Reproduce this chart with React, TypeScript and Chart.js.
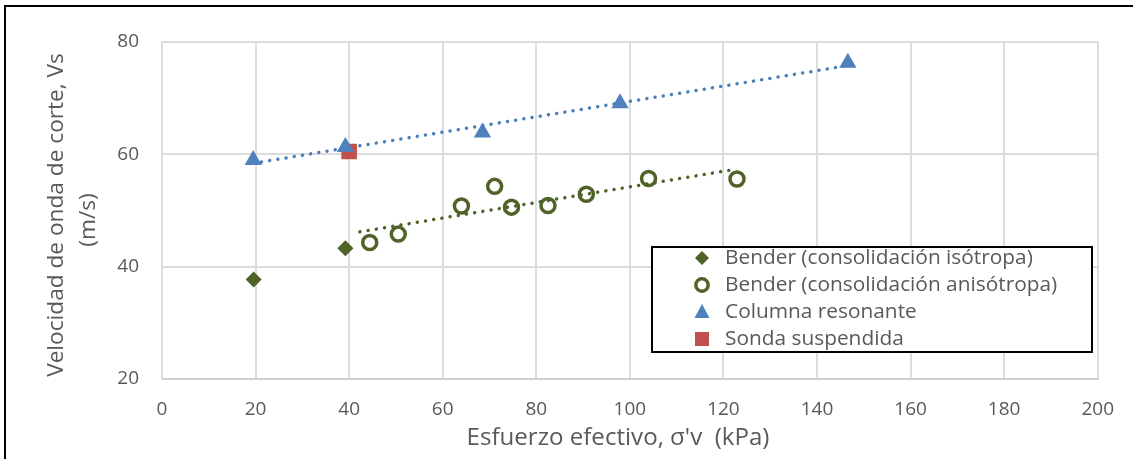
import React, { useEffect, useRef } from 'react';
import { Chart, registerables } from 'chart.js';

Chart.register(...registerables);

// ---- Data ----
const isoX = [19.6, 39.2];
const isoY = [37.7, 43.3];
const anisoX = [44.4, 50.5, 64.0, 71.1, 74.7, 82.5, 90.7, 104.0, 122.9];
const anisoY = [44.3, 45.8, 50.8, 54.3, 50.6, 50.9, 52.9, 55.7, 55.6];
const colX = [19.5, 39.2, 68.5, 97.9, 146.6];
const colY = [59.0, 61.3, 63.9, 69.1, 76.3];
const sondaX = [40.0];
const sondaY = [60.5];
const blueTrendX = [19.5, 146.6];
const blueTrendY = [58.4, 75.8];
const greenTrendX = [42.3, 122.3];
const greenTrendY = [46.2, 57.3];

const legendLabels = [
  'Bender (consolidación isótropa)',
  'Bender (consolidación anisótropa)',
  'Columna resonante',
  'Sonda suspendida',
];
const xTitle = "Esfuerzo efectivo, σ'v  (kPa)";
const yTitle1 = 'Velocidad de onda de corte, Vs';
const yTitle2 = '(m/s)';

const GREEN = '#4f6228';
const BLUE = '#4f81bd';
const BLUE_TREND = '#4a7ebb';
const RED = '#c0504d';
const TEXT = '#595959';
const FAMILY = '"Open Sans", "Noto Sans", sans-serif';

const pts = (xs: number[], ys: number[]) => xs.map((x, i) => ({ x, y: ys[i] }));

function fitSize(ctx: CanvasRenderingContext2D, text: string, target: number, base: number) {
  ctx.font = `${base}px ${FAMILY}`;
  const w = ctx.measureText(text).width;
  return (base * target) / w;
}

const decor = {
  id: 'decor',
  afterDraw(chart: any) {
    const ctx: CanvasRenderingContext2D = chart.ctx;
    ctx.save();
    // outer frame (top and left)
    ctx.fillStyle = '#000';
    ctx.fillRect(4, 5, 1129, 2);
    ctx.fillRect(4, 5, 2, 454);

    // x title
    ctx.fillStyle = TEXT;
    ctx.textAlign = 'center';
    ctx.textBaseline = 'middle';
    let s = fitSize(ctx, xTitle, 303, 20);
    ctx.font = `${s}px ${FAMILY}`;
    ctx.fillText(xTitle, 618, 438);

    // y title
    ctx.save();
    ctx.translate(57, 215);
    ctx.rotate(-Math.PI / 2);
    s = fitSize(ctx, yTitle1, 324, 20);
    ctx.font = `${s}px ${FAMILY}`;
    ctx.fillText(yTitle1, 0, 0);
    ctx.restore();
    ctx.save();
    ctx.translate(89, 220);
    ctx.rotate(-Math.PI / 2);
    ctx.font = `${s}px ${FAMILY}`;
    ctx.fillText(yTitle2, 0, 0);
    ctx.restore();

    // legend box
    const bx = 652, by = 247, bw = 440, bh = 105;
    ctx.fillStyle = '#fff';
    ctx.fillRect(bx, by, bw, bh);
    ctx.strokeStyle = '#000';
    ctx.lineWidth = 2;
    ctx.strokeRect(bx, by, bw, bh);

    const rows = [258, 285, 312, 339];
    const mx = 702;
    // diamond
    ctx.fillStyle = GREEN;
    ctx.beginPath();
    ctx.moveTo(mx, rows[0] - 7);
    ctx.lineTo(mx + 7, rows[0]);
    ctx.lineTo(mx, rows[0] + 7);
    ctx.lineTo(mx - 7, rows[0]);
    ctx.closePath();
    ctx.fill();
    // open circle
    ctx.strokeStyle = GREEN;
    ctx.lineWidth = 3.5;
    ctx.beginPath();
    ctx.arc(mx, rows[1], 6.2, 0, Math.PI * 2);
    ctx.stroke();
    // triangle
    ctx.fillStyle = BLUE;
    ctx.beginPath();
    ctx.moveTo(mx, rows[2] - 8);
    ctx.lineTo(mx + 7.5, rows[2] + 6);
    ctx.lineTo(mx - 7.5, rows[2] + 6);
    ctx.closePath();
    ctx.fill();
    // square
    ctx.fillStyle = RED;
    ctx.fillRect(mx - 7, rows[3] - 7, 14, 14);

    ctx.fillStyle = TEXT;
    ctx.textAlign = 'left';
    ctx.textBaseline = 'middle';
    s = fitSize(ctx, legendLabels[0], 308, 18);
    ctx.font = `${s}px ${FAMILY}`;
    legendLabels.forEach((t, i) => ctx.fillText(t, 725, rows[i]));
    ctx.restore();
  },
};

export default function App() {
  const ref = useRef<HTMLCanvasElement | null>(null);

  useEffect(() => {
    if (!ref.current) return;
    const chart = new Chart(ref.current, {
      type: 'scatter',
      data: {
        datasets: [
          {
            label: legendLabels[0],
            data: pts(isoX, isoY),
            pointStyle: 'rectRot',
            pointRadius: 8,
            backgroundColor: GREEN,
            borderColor: GREEN,
            borderWidth: 0,
          },
          {
            label: legendLabels[1],
            data: pts(anisoX, anisoY),
            pointStyle: 'circle',
            pointRadius: 7,
            backgroundColor: 'rgba(0,0,0,0)',
            borderColor: GREEN,
            borderWidth: 3.5,
          },
          {
            label: legendLabels[2],
            data: pts(colX, colY),
            pointStyle: 'triangle',
            pointRadius: 10,
            backgroundColor: BLUE,
            borderColor: BLUE,
            borderWidth: 0,
          },
          {
            label: legendLabels[3],
            data: pts(sondaX, sondaY),
            pointStyle: 'rect',
            pointRadius: 11,
            backgroundColor: RED,
            borderColor: RED,
            borderWidth: 0,
          },
          {
            label: 'trend-col',
            data: pts(blueTrendX, blueTrendY),
            showLine: true,
            pointRadius: 0,
            borderColor: BLUE_TREND,
            borderWidth: 3.5,
            borderDash: [0.01, 8.3],
            borderCapStyle: 'round',
            fill: false,
          } as any,
          {
            label: 'trend-aniso',
            data: pts(greenTrendX, greenTrendY),
            showLine: true,
            pointRadius: 0,
            borderColor: GREEN,
            borderWidth: 3.5,
            borderDash: [0.01, 8.3],
            borderCapStyle: 'round',
            fill: false,
          } as any,
        ],
      },
      options: {
        responsive: false,
        animation: false,
        layout: { padding: { top: 42, right: 29, left: 0, bottom: 0 } },
        plugins: {
          legend: { display: false },
          tooltip: { enabled: false },
        },
        scales: {
          x: {
            type: 'linear',
            min: 0,
            max: 200,
            ticks: {
              stepSize: 20,
              color: TEXT,
              font: { family: FAMILY, size: 19 },
              padding: 19,
              maxRotation: 0,
            },
            grid: { color: '#dcdcdc', lineWidth: 2, drawTicks: false },
            border: { color: '#cfcfcf', width: 2 },
            afterFit: (scale: any) => {
              scale.height = 80;
            },
          },
          y: {
            type: 'linear',
            min: 20,
            max: 80,
            ticks: {
              stepSize: 20,
              color: TEXT,
              font: { family: FAMILY, size: 19 },
              padding: 23,
            },
            grid: { color: '#dcdcdc', lineWidth: 2, drawTicks: false },
            border: { color: '#dcdcdc', width: 2 },
            afterFit: (scale: any) => {
              scale.width = 162;
            },
          },
        },
      },
      plugins: [decor],
    } as any);
    return () => chart.destroy();
  }, []);

  return (
    <div style={{ position: 'fixed', left: 0, top: 0, width: 1133, height: 459, background: '#fff' }}>
      <canvas ref={ref} width={1133} height={459} style={{ display: 'block' }} />
    </div>
  );
}
